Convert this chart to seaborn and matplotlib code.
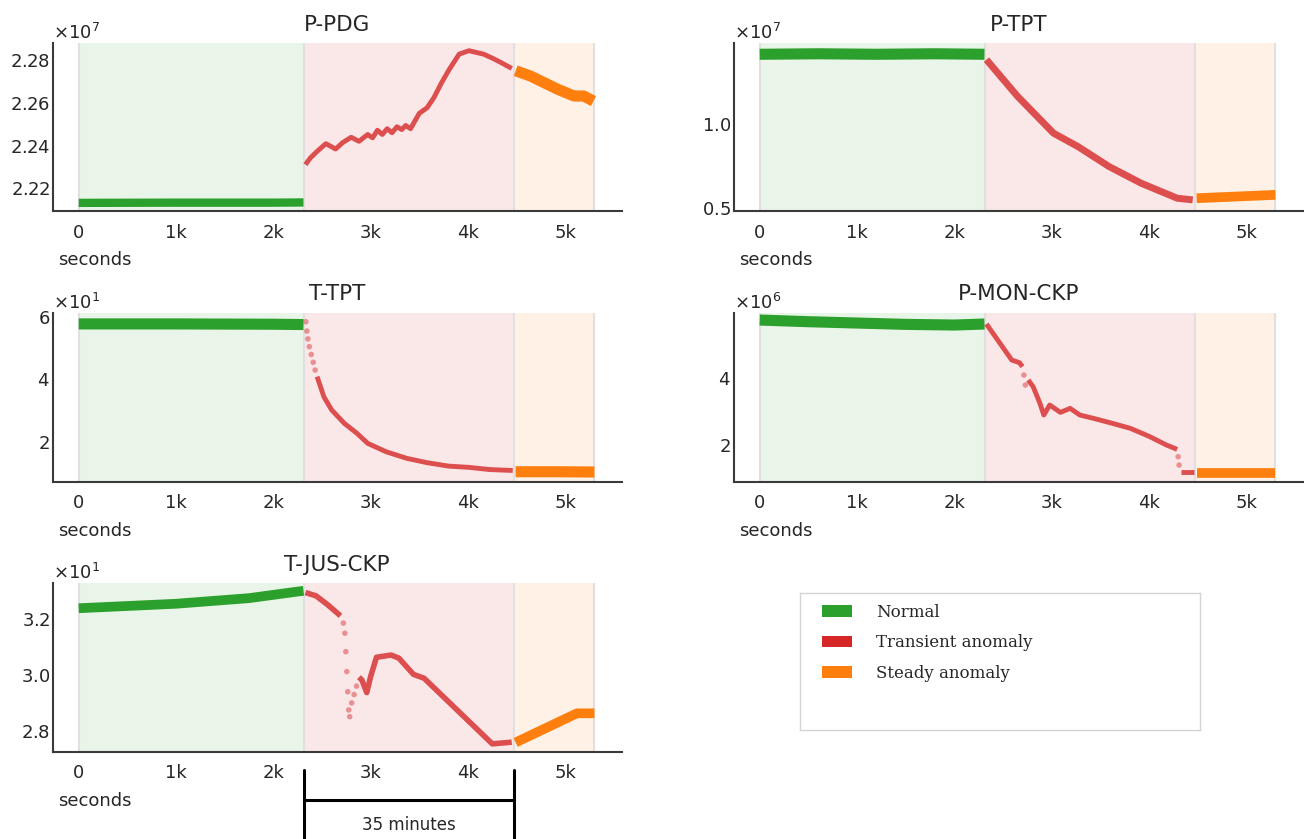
import numpy as np
import pandas as pd
import matplotlib
matplotlib.use("Agg")
import matplotlib.pyplot as plt
import matplotlib.ticker as mticker
from matplotlib.patches import Patch
from matplotlib.transforms import blended_transform_factory
import seaborn as sns

# phases shared by every sensor
PHASES = ["Normal", "Transient anomaly", "Steady anomaly"]
PHASE_COLORS = ["#2ca02c", "#d62728", "#ff7f0e"]
PHASE_BOUNDS = [0, 2320, 4470, 5300]
XTICKS = [0, 1000, 2000, 3000, 4000, 5000]
XTICK_LABELS = ["0", "1k", "2k", "3k", "4k", "5k"]

# P-PDG (x1e7)
pdg_normal_t = [0, 1000, 2000, 2310]
pdg_normal_v = [2.2132, 2.2133, 2.2133, 2.2134]
pdg_trans_t = [2330, 2380, 2450, 2540, 2640, 2710, 2800, 2880, 2970, 3020, 3070, 3120,
               3170, 3220, 3270, 3320, 3360, 3410, 3500, 3580, 3650, 3730, 3810, 3910,
               4010, 4160, 4270, 4350, 4450]
pdg_trans_v = [2.2311, 2.2342, 2.2373, 2.2409, 2.2384, 2.2413, 2.2439, 2.2420, 2.2452,
               2.2436, 2.2472, 2.2452, 2.2479, 2.2460, 2.2488, 2.2475, 2.2494, 2.2479,
               2.2551, 2.2577, 2.2624, 2.2695, 2.2758, 2.2828, 2.2844, 2.2828, 2.2805,
               2.2786, 2.2761]
pdg_dots_t = []
pdg_dots_v = []
pdg_steady_t = [4490, 4640, 4780, 4920, 5090, 5190, 5290]
pdg_steady_v = [2.2750, 2.2726, 2.2695, 2.2664, 2.2632, 2.2632, 2.2608]

# P-TPT (x1e7)
tpt_p_normal_t = [0, 600, 1200, 1800, 2310]
tpt_p_normal_v = [1.415, 1.418, 1.415, 1.418, 1.415]
tpt_p_trans_t = [2330, 2650, 3020, 3270, 3590, 3920, 4290, 4450]
tpt_p_trans_v = [1.383, 1.165, 0.946, 0.867, 0.748, 0.649, 0.560, 0.550]
tpt_p_dots_t = []
tpt_p_dots_v = []
tpt_p_steady_t = [4490, 4900, 5300]
tpt_p_steady_v = [0.560, 0.570, 0.580]

# T-TPT (x10)
tpt_t_normal_t = [0, 1000, 2000, 2310]
tpt_t_normal_v = [5.78, 5.78, 5.77, 5.76]
tpt_t_trans_t = [2450, 2520, 2600, 2730, 2860, 2970, 3160, 3370, 3580, 3800, 4010, 4220, 4460]
tpt_t_trans_v = [4.09, 3.44, 3.02, 2.59, 2.27, 1.95, 1.68, 1.47, 1.33, 1.22, 1.18, 1.11, 1.08]
tpt_t_dots_t = [2335, 2345, 2355, 2370, 2390, 2410, 2430]
tpt_t_dots_v = [5.85, 5.55, 5.30, 5.05, 4.80, 4.55, 4.30]
tpt_t_steady_t = [4490, 4900, 5300]
tpt_t_steady_v = [1.04, 1.04, 1.03]

# P-MON-CKP (x1e6)
mon_normal_t = [0, 500, 1000, 1500, 2000, 2310]
mon_normal_v = [5.75, 5.70, 5.66, 5.62, 5.60, 5.63]
mon_trans_t = [2330, 2470, 2590, 2670, 2700, 2760, 2810, 2880, 2920, 2980, 3090, 3190,
               3290, 3430, 3600, 3810, 4010, 4180, 4290, 4330, 4460]
mon_trans_v = [5.63, 5.05, 4.55, 4.47, 4.35, 3.95, 3.75, 3.25, 2.90, 3.20, 2.98, 3.10,
               2.90, 2.80, 2.67, 2.50, 2.25, 2.00, 1.87, 1.20, 1.20]
mon_dots_t = [2715, 2730, 4300, 4310]
mon_dots_v = [4.10, 3.80, 1.65, 1.40]
mon_steady_t = [4490, 4900, 5300]
mon_steady_v = [1.17, 1.17, 1.17]

# T-JUS-CKP (x10)
jus_normal_t = [0, 1000, 1750, 2260, 2310]
jus_normal_v = [3.238, 3.254, 3.274, 3.298, 3.300]
jus_trans_t = [2330, 2440, 2560, 2690, 2880, 2910, 2960, 3000, 3060, 3210, 3290, 3440,
               3550, 3960, 4250, 4450]
jus_trans_v = [3.294, 3.282, 3.250, 3.211, 2.992, 2.982, 2.937, 2.994, 3.063, 3.071,
               3.060, 3.002, 2.988, 2.851, 2.754, 2.760]
jus_dots_t = [2720, 2735, 2745, 2755, 2765, 2775, 2785, 2805, 2830, 2855]
jus_dots_v = [3.185, 3.149, 3.083, 3.012, 2.940, 2.875, 2.851, 2.900, 2.930, 2.960]
jus_steady_t = [4490, 5120, 5300]
jus_steady_v = [2.759, 2.863, 2.863]


def make_frame(normal, trans, dots, steady, scale):
    frames = []
    for (t, v), phase in zip([normal, trans, steady], PHASES):
        frames.append(pd.DataFrame({"t": t, "value": np.asarray(v, float) * scale,
                                    "phase": phase, "kind": "line"}))
    frames.append(pd.DataFrame({"t": dots[0], "value": np.asarray(dots[1], float) * scale,
                                "phase": PHASES[1], "kind": "dot"}))
    df = pd.concat(frames, ignore_index=True)
    # break the transient line where it turns into sparse dots
    df["piece"] = np.searchsorted(np.sort(np.asarray(dots[0], float)), df["t"])
    return df


def draw_panel(ax, df, title, yticks, ylim, widths):
    for lo, hi, c in zip(PHASE_BOUNDS[:-1], PHASE_BOUNDS[1:], PHASE_COLORS):
        ax.axvspan(lo, hi, color=c, alpha=0.1, lw=0, zorder=0)
    for b in PHASE_BOUNDS:
        ax.axvline(b, color="#e0e0e0", lw=1.5, zorder=0.5)

    lines = df[df["kind"] == "line"]
    for phase, color, lw in zip(PHASES, PHASE_COLORS, widths):
        sub = lines[lines["phase"] == phase]
        sns.lineplot(data=sub, x="t", y="value", units="piece", estimator=None, sort=False,
                     color=color, linewidth=lw, alpha=0.8 if phase == PHASES[1] else 1.0,
                     solid_capstyle="butt", legend=False, ax=ax)
    dots = df[df["kind"] == "dot"]
    if len(dots):
        sns.scatterplot(data=dots, x="t", y="value", color=PHASE_COLORS[1], s=16,
                        alpha=0.45, edgecolor="none", legend=False, ax=ax)

    ax.set_xlim(-267, 5580)
    ax.set_ylim(*ylim)
    ax.set_yticks(yticks)
    fmt = mticker.ScalarFormatter(useMathText=True, useOffset=False)
    fmt.set_powerlimits((0, 0))
    ax.yaxis.set_major_formatter(fmt)
    ax.yaxis.get_offset_text().set_fontsize(13)
    ax.set_xticks(XTICKS, XTICK_LABELS)
    ax.set_title(title, fontsize=15.5, pad=9)
    ax.set_ylabel("")
    ax.set_xlabel("seconds", loc="left", fontsize=13)
    ax.xaxis.set_label_coords(0.01, -0.24)
    sns.despine(ax=ax)
    for side in ["left", "bottom"]:
        ax.spines[side].set_color("#3a3a3a")
        ax.spines[side].set_linewidth(1.5)
    ax.tick_params(axis="y", length=0, pad=2, labelsize=13)
    ax.tick_params(axis="x", length=5, width=1.5, pad=4, labelsize=13, color="#3a3a3a")


sns.set_style("white")
plt.rcParams["font.family"] = ["DejaVu Sans"]

fig = plt.figure(figsize=(13.04, 8.39), dpi=100)
W, H = 1304, 839


def axes_at(left, top, right, bottom):
    return fig.add_axes([left / W, 1 - bottom / H, (right - left) / W, (bottom - top) / H])


ax1 = axes_at(52.7, 43, 621.7, 211)
ax2 = axes_at(733.7, 43, 1302.7, 211)
ax3 = axes_at(52.7, 312.7, 621.7, 481.7)
ax4 = axes_at(733.7, 312.7, 1302.7, 481.7)
ax5 = axes_at(52.7, 583.3, 621.7, 751.7)

draw_panel(ax1, make_frame((pdg_normal_t, pdg_normal_v), (pdg_trans_t, pdg_trans_v),
                           (pdg_dots_t, pdg_dots_v), (pdg_steady_t, pdg_steady_v), 1e7),
           "P-PDG", [2.22e7, 2.24e7, 2.26e7, 2.28e7], (2.2094e7, 2.288e7), (6, 3.5, 8))
draw_panel(ax2, make_frame((tpt_p_normal_t, tpt_p_normal_v), (tpt_p_trans_t, tpt_p_trans_v),
                           (tpt_p_dots_t, tpt_p_dots_v), (tpt_p_steady_t, tpt_p_steady_v), 1e7),
           "P-TPT", [0.5e7, 1.0e7], (0.484e7, 1.482e7), (8, 5, 7))
draw_panel(ax3, make_frame((tpt_t_normal_t, tpt_t_normal_v), (tpt_t_trans_t, tpt_t_trans_v),
                           (tpt_t_dots_t, tpt_t_dots_v), (tpt_t_steady_t, tpt_t_steady_v), 10),
           "T-TPT", [20, 40, 60], (7.2, 61.4), (8, 3.5, 8))
draw_panel(ax4, make_frame((mon_normal_t, mon_normal_v), (mon_trans_t, mon_trans_v),
                           (mon_dots_t, mon_dots_v), (mon_steady_t, mon_steady_v), 1e6),
           "P-MON-CKP", [2e6, 4e6], (0.9e6, 5.97e6), (8, 3.5, 7))
draw_panel(ax5, make_frame((jus_normal_t, jus_normal_v), (jus_trans_t, jus_trans_v),
                           (jus_dots_t, jus_dots_v), (jus_steady_t, jus_steady_v), 10),
           "T-JUS-CKP", [28, 30, 32], (27.26, 33.27), (7, 4, 7))

# bracket marking the transient window
trans = blended_transform_factory(ax5.transData, ax5.transAxes)
for b in PHASE_BOUNDS[1:3]:
    ax5.plot([b, b], [-0.11, -0.55], transform=trans, color="black", lw=2.2, clip_on=False)
ax5.plot(PHASE_BOUNDS[1:3], [-0.287, -0.287], transform=trans, color="black", lw=2.2,
         clip_on=False)
ax5.text(sum(PHASE_BOUNDS[1:3]) / 2, -0.435, "35 minutes", transform=trans,
         ha="center", va="center", fontsize=12)

# legend box
lax = axes_at(800, 593, 1200, 730)
lax.set_xticks([])
lax.set_yticks([])
for sp in lax.spines.values():
    sp.set_color("#d4d4d4")
    sp.set_linewidth(1)
handles = [Patch(facecolor=c, edgecolor="none", label=p) for p, c in zip(PHASES, PHASE_COLORS)]
lax.legend(handles=handles, loc="upper left", bbox_to_anchor=(15 / 400, 1 - 4 / 137),
           borderaxespad=0, frameon=False, prop={"family": "DejaVu Serif", "size": 12},
           handlelength=1.8, handleheight=0.72, handletextpad=1.45, labelspacing=0.82)

fig.savefig("out.png", dpi=100, facecolor="white")
